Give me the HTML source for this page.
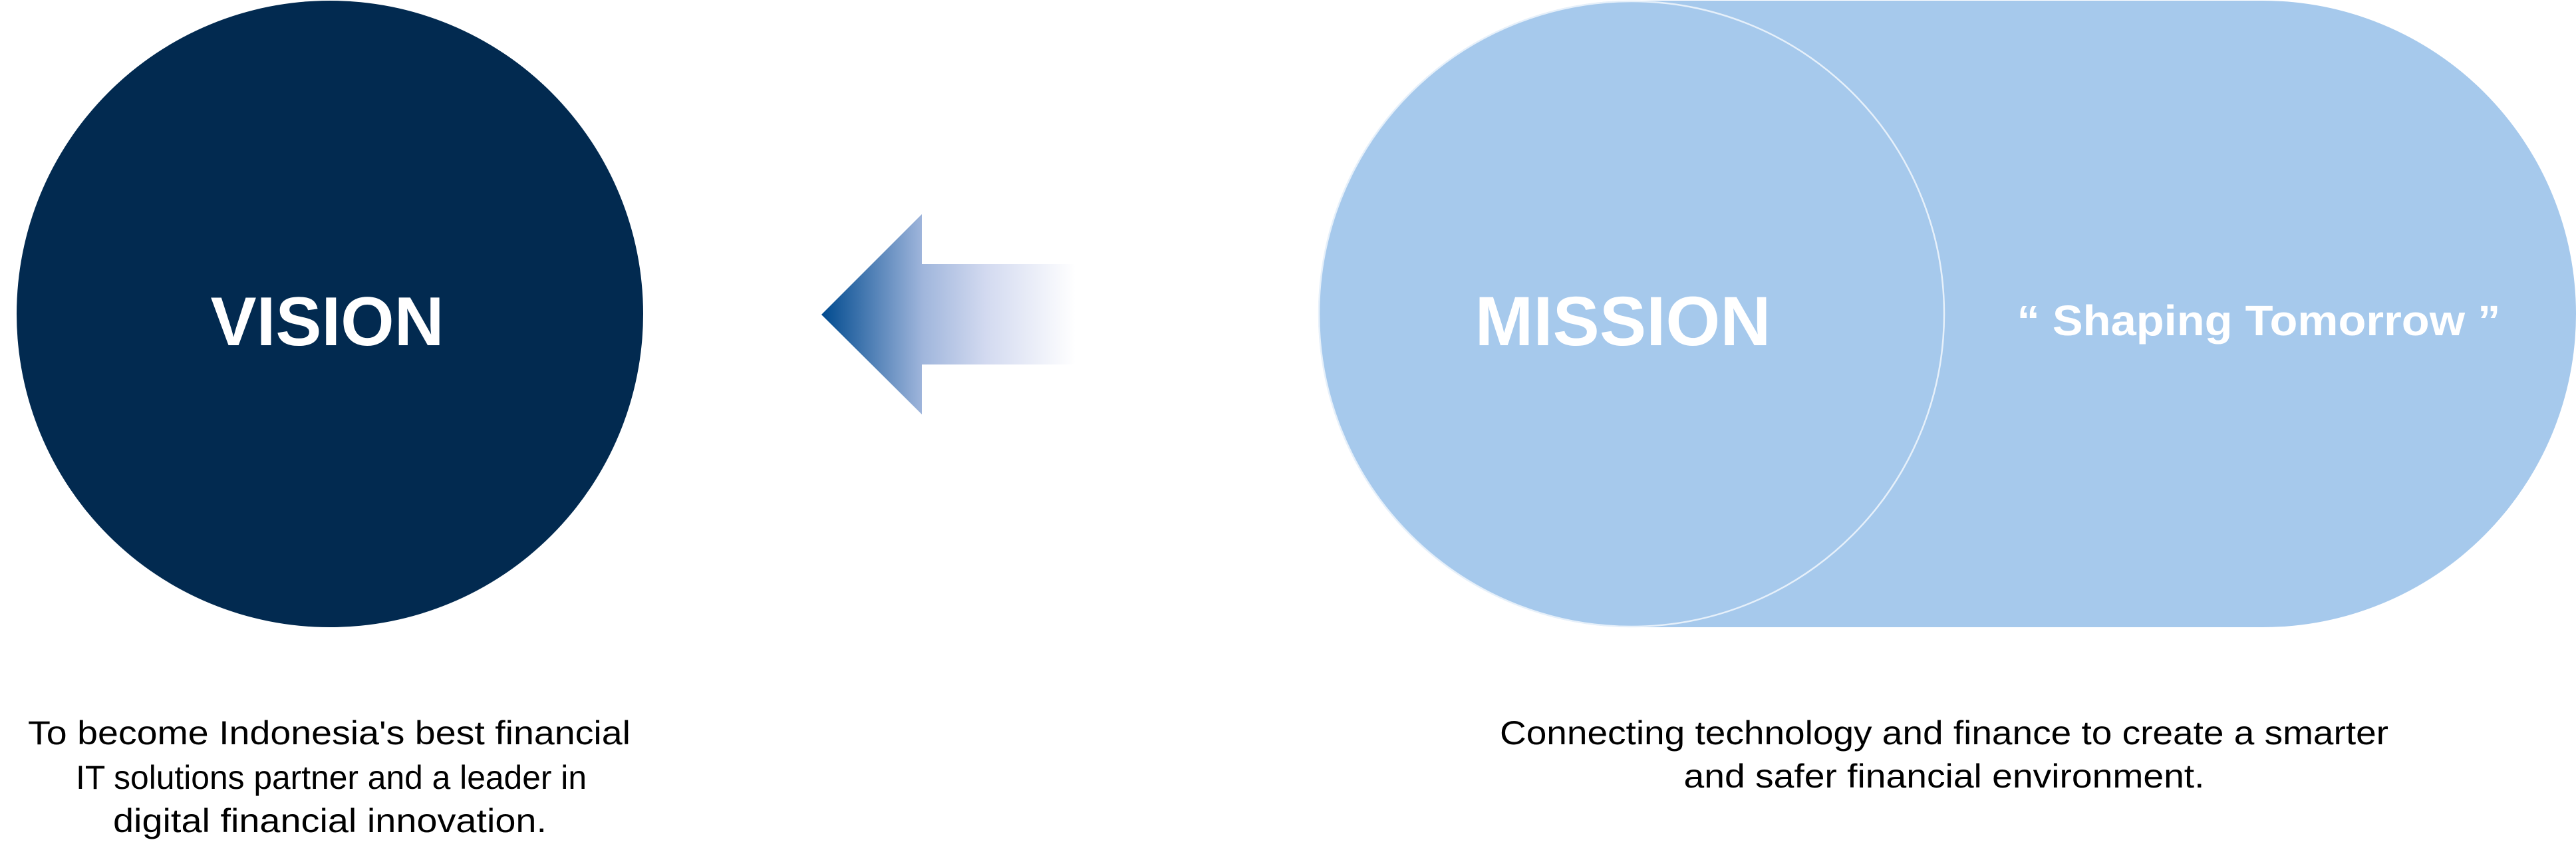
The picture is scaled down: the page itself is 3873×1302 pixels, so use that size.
<!DOCTYPE html>
<html><head><style>html,body{margin:0;padding:0;background:#fff}svg{display:block}</style></head>
<body>
<svg width="3873" height="1302" viewBox="0 0 3873 1302" xmlns="http://www.w3.org/2000/svg">
<defs>
<linearGradient id="ag" x1="1235" y1="0" x2="1617" y2="0" gradientUnits="userSpaceOnUse">
<stop offset="0" stop-color="#004a8f"/>
<stop offset="0.4" stop-color="#a0b6dc"/>
<stop offset="0.65" stop-color="#d3daf0"/>
<stop offset="1" stop-color="#ffffff"/>
</linearGradient>
</defs>
<circle cx="496" cy="472" r="471" fill="#022a50"/>
<polygon points="1235,473 1386,322 1386,397 1617,397 1617,548 1386,548 1386,623" fill="url(#ag)"/>
<path d="M2453,1 L3402,1 A471,471 0 0 1 3402,943 L2453,943 A471,471 0 0 1 2453,1 Z" fill="#a6c9ec"/>
<circle cx="2453" cy="472" r="470" fill="none" stroke="#e6f0fa" stroke-width="2.5"/>
<g font-family="Liberation Sans, Arial, sans-serif" font-weight="bold" fill="#fff">
<text x="492" y="519" font-size="104" text-anchor="middle" textLength="351" lengthAdjust="spacingAndGlyphs">VISION</text>
<text x="2440" y="519" font-size="105" text-anchor="middle" textLength="445" lengthAdjust="spacingAndGlyphs">MISSION</text>
<text x="3396" y="504" font-size="64" text-anchor="middle" textLength="727" lengthAdjust="spacingAndGlyphs">“ Shaping Tomorrow ”</text>
</g>
<g font-family="Liberation Sans, Arial, sans-serif" font-size="50" fill="#000" text-anchor="middle">
<text x="495" y="1119" textLength="906" lengthAdjust="spacingAndGlyphs">To become Indonesia's best financial</text>
<text x="498" y="1186" textLength="768" lengthAdjust="spacingAndGlyphs">IT solutions partner and a leader in</text>
<text x="496" y="1251" textLength="652" lengthAdjust="spacingAndGlyphs">digital financial innovation.</text>
<text x="2923" y="1119" textLength="1336" lengthAdjust="spacingAndGlyphs">Connecting technology and finance to create a smarter</text>
<text x="2923" y="1184" textLength="783" lengthAdjust="spacingAndGlyphs">and safer financial environment.</text>
</g>
</svg>
</body></html>
